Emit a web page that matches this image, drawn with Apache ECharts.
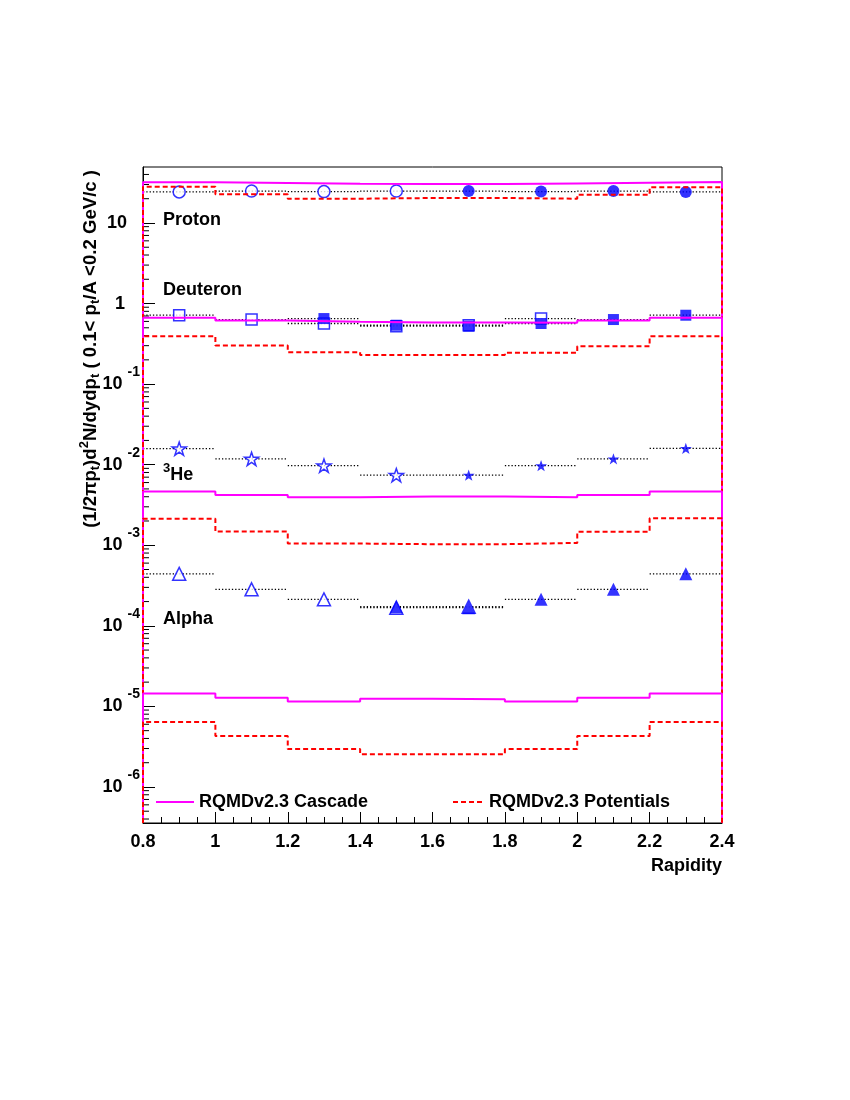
<!DOCTYPE html>
<html>
<head>
<meta charset="utf-8">
<title>Rapidity distributions</title>
<script src="https://cdn.jsdelivr.net/npm/echarts@6/dist/echarts.min.js"></script>
<style>
  html, body { margin: 0; padding: 0; background: #fff; }
  #chart { width: 850px; height: 1100px; }
</style>
</head>
<body>
<div id="chart"></div>
<script>
// bin centres in rapidity, every bin is 0.2 wide
const rapidity = [0.9, 1.1, 1.3, 1.5, 1.7, 1.9, 2.1, 2.3]
const BIN_HALF = 0.1
const X_MIN = 0.8
const X_MAX = 2.4
const Y_MIN = 3.57e-7
const Y_MAX = 49.5

// measured points (filled) and points reflected about mid-rapidity (open)
const protonMeasX = [1.7, 1.9, 2.1, 2.3]
const protonMeas = [24.9, 24.5, 24.9, 24.3]
const protonReflX = [0.9, 1.1, 1.3, 1.5]
const protonRefl = [24.3, 24.9, 24.5, 24.9]

const deuteronMeasX = [1.3, 1.5, 1.7, 1.9, 2.1, 2.3]
const deuteronMeas = [0.651, 0.538, 0.523, 0.565, 0.633, 0.716]
const deuteronReflX = [0.9, 1.1, 1.3, 1.5, 1.7, 1.9]
const deuteronRefl = [0.716, 0.633, 0.565, 0.523, 0.538, 0.651]

const he3MeasX = [1.7, 1.9, 2.1, 2.3]
const he3Meas = [0.00741, 0.00972, 0.0118, 0.0159]
const he3ReflX = [0.9, 1.1, 1.3, 1.5]
const he3Refl = [0.0158, 0.0118, 0.00972, 0.00741]

const alphaMeasX = [1.5, 1.7, 1.9, 2.1, 2.3]
const alphaMeas = [1.73e-4, 1.68e-4, 2.13e-4, 2.84e-4, 4.42e-4]
const alphaReflX = [0.9, 1.1, 1.3, 1.5, 1.7]
const alphaRefl = [4.42e-4, 2.84e-4, 2.13e-4, 1.68e-4, 1.73e-4]

// RQMD v2.3 histograms, one value per rapidity bin
const protonCascade = [32.0, 31.3, 30.7, 30.5, 30.5, 31.0, 31.6, 32.2]
const protonPotential = [28.2, 22.7, 20.0, 20.4, 20.4, 20.0, 22.4, 27.7]
const deuteronCascade = [0.665, 0.615, 0.593, 0.581, 0.581, 0.576, 0.615, 0.665]
const deuteronPotential = [0.393, 0.301, 0.249, 0.229, 0.229, 0.245, 0.295, 0.393]
const he3Cascade = [0.00463, 0.00421, 0.00393, 0.00404, 0.00404, 0.00393, 0.00421, 0.00463]
const he3Potential = [0.00214, 0.00148, 0.00105, 0.00103, 0.00103, 0.00107, 0.00147, 0.00216]
const alphaCascade = [1.45e-5, 1.28e-5, 1.15e-5, 1.24e-5, 1.23e-5, 1.15e-5, 1.28e-5, 1.45e-5]
const alphaPotential = [6.38e-6, 4.29e-6, 2.95e-6, 2.54e-6, 2.54e-6, 2.95e-6, 4.29e-6, 6.38e-6]

const CASCADE = 'RQMDv2.3 Cascade'
const POTENTIAL = 'RQMDv2.3 Potentials'
const FONT = '"Liberation Sans", Arial, Helvetica, sans-serif'
const BLUE = '#0000ff'
const STAR = 'path://M50,0 L61.8,35.1 L98.9,35.1 L68.9,56.8 L80.3,91.9 L50,70.3 L19.7,91.9 L31.1,56.8 L1.1,35.1 L38.2,35.1 Z'

// minor ticks of the log axis at 2..9 x 10^k
const yMinorTicks = []
for (let k = -7; k <= 1; k++) {
  for (let m = 2; m <= 9; m++) {
    const v = m * Math.pow(10, k)
    if (v > Y_MIN && v < Y_MAX) yMinorTicks.push(v)
  }
}

// histogram outline: drops to the axis minimum at both ends, like ROOT draws it
function histPoints(values) {
  const pts = [[X_MIN, Y_MIN]]
  values.forEach((v, i) => {
    const lo = +(rapidity[i] - BIN_HALF).toFixed(3)
    const hi = +(rapidity[i] + BIN_HALF).toFixed(3)
    pts.push([lo, v], [hi, v])
  })
  pts.push([X_MAX, Y_MIN])
  return pts
}

function histSeries(name, values) {
  const cascade = name === CASCADE
  const color = cascade ? '#ff00ff' : '#ff0000'
  return {
    name,
    type: 'line',
    data: histPoints(values),
    symbol: 'none',
    clip: false,
    silent: true,
    itemStyle: { color },
    lineStyle: { color, width: 2, type: cascade ? 'solid' : [5, 3] },
    z: 5
  }
}

// dotted horizontal bar spanning the bin of each point
function binBarSeries(xs, vals) {
  return {
    type: 'custom',
    silent: true,
    data: xs.map((x, i) => [x, vals[i]]),
    renderItem(params, api) {
      const a = api.coord([api.value(0) - BIN_HALF, api.value(1)])
      const b = api.coord([api.value(0) + BIN_HALF, api.value(1)])
      return {
        type: 'line',
        shape: { x1: a[0], y1: a[1], x2: b[0], y2: b[1] },
        style: { stroke: '#000', lineWidth: 1.3, lineDash: [1.3, 2] }
      }
    },
    z: 2
  }
}

function markerSeries(xs, vals, symbol, size, open) {
  return {
    type: 'scatter',
    silent: true,
    data: xs.map((x, i) => [x, vals[i]]),
    symbol,
    symbolSize: size,
    symbolKeepAspect: true,
    itemStyle: open
      ? { color: '#fff', borderColor: BLUE, borderWidth: 1.5 }
      : { color: BLUE },
    z: open ? 3 : 4
  }
}

function powLabel(v) {
  const lg = Math.log10(v)
  const e = Math.round(lg)
  if (Math.abs(lg - e) > 1e-6) return ''
  if (e === 0) return '{p0|1}'
  if (e === 1) return '{p1|10}'
  return '{b|10}{e|' + e + '}'
}

const labelBold = { fontFamily: FONT, fontWeight: 'bold', color: '#000' }

// legend shows only the line, not the symbol ECharts adds for line series
const legendBase = {
  top: 788,
  itemHeight: 14,
  itemStyle: { color: 'transparent', borderColor: 'transparent', borderWidth: 0 },
  textStyle: { ...labelBold, fontSize: 18 }
}

const chart = echarts.init(document.getElementById('chart'))

chart.setOption({
  animation: false,
  backgroundColor: '#fff',
  grid: {
    left: 143,
    right: 128,
    top: 167,
    bottom: 277,
    show: true,
    borderColor: '#000',
    borderWidth: 1,
    backgroundColor: 'transparent'
  },
  legend: [
    { ...legendBase, left: 150, data: [CASCADE], itemWidth: 38 },
    { ...legendBase, left: 447, data: [POTENTIAL], itemWidth: 31 }
  ],
  xAxis: {
    type: 'value',
    min: X_MIN,
    max: X_MAX,
    interval: 0.2,
    axisLine: { onZero: false, lineStyle: { color: '#000', width: 1 } },
    axisTick: { inside: true, length: 11, lineStyle: { color: '#000' } },
    minorTick: { show: true, splitNumber: 4, length: 6, lineStyle: { color: '#000' } },
    splitLine: { show: false },
    axisLabel: { ...labelBold, fontSize: 18, margin: 10 },
    name: 'Rapidity',
    nameLocation: 'end',
    nameGap: 0,
    nameMoveOverlap: false,
    nameTextStyle: {
      ...labelBold,
      fontSize: 18,
      align: 'right',
      verticalAlign: 'top',
      padding: [34, 0, 0, 0]
    }
  },
  yAxis: {
    type: 'log',
    logBase: 10,
    min: Y_MIN,
    max: Y_MAX,
    splitNumber: 8,
    axisLine: { show: true, onZero: false, lineStyle: { color: '#000', width: 1 } },
    axisTick: { inside: true, length: 12, lineStyle: { color: '#000' } },
    splitLine: { show: false },
    axisLabel: {
      margin: 3,
      showMinLabel: false,
      showMaxLabel: false,
      formatter: powLabel,
      rich: {
        p0: { ...labelBold, fontSize: 18, padding: [0, 15, 0, 0] },
        p1: { ...labelBold, fontSize: 18, padding: [0, 13, 0, 0] },
        b: { ...labelBold, fontSize: 18 },
        e: { ...labelBold, fontSize: 14, padding: [0, 0, 24, 5] }
      }
    },
    name: '{a|(1/2\u03c0p}{s|t}{a|)d}{u|2}{a|N/dydp}{s|t}{a| ( 0.1< p}{s|t}{a|/A <0.2 GeV/c )}',
    nameLocation: 'end',
    nameRotate: 90,
    nameGap: -3,
    nameMoveOverlap: false,
    nameTextStyle: {
      align: 'right',
      verticalAlign: 'bottom',
      padding: [0, 0, 40, 0],
      rich: {
        a: { ...labelBold, fontSize: 18.6 },
        s: { ...labelBold, fontSize: 13, padding: [10, 0, 0, 0] },
        u: { ...labelBold, fontSize: 13, padding: [0, 0, 12, 0] }
      }
    }
  },
  graphic: [
    { type: 'text', x: 163, y: 220.5, style: { text: 'Proton', font: 'bold 18px ' + FONT, fill: '#000', verticalAlign: 'middle' } },
    { type: 'text', x: 163, y: 290.5, style: { text: 'Deuteron', font: 'bold 18px ' + FONT, fill: '#000', verticalAlign: 'middle' } },
    {
      type: 'text', x: 163, y: 475,
      style: {
        text: '{s|3}{b|He}',
        verticalAlign: 'middle',
        rich: {
          s: { fontFamily: FONT, fontWeight: 'bold', fontSize: 13, fill: '#000', padding: [0, 0, 14, 0] },
          b: { fontFamily: FONT, fontWeight: 'bold', fontSize: 18, fill: '#000' }
        }
      }
    },
    { type: 'text', x: 163, y: 619.5, style: { text: 'Alpha', font: 'bold 18px ' + FONT, fill: '#000', verticalAlign: 'middle' } }
  ],
  series: [
    {
      type: 'custom',
      silent: true,
      data: yMinorTicks.map((v) => [X_MIN, v]),
      renderItem(params, api) {
        const p = api.coord([X_MIN, api.value(1)])
        return {
          type: 'line',
          shape: { x1: p[0], y1: p[1], x2: p[0] + 6, y2: p[1] },
          style: { stroke: '#000', lineWidth: 1 }
        }
      },
      z: 1
    },
    binBarSeries(protonReflX, protonRefl),
    binBarSeries(protonMeasX, protonMeas),
    binBarSeries(deuteronReflX, deuteronRefl),
    binBarSeries(deuteronMeasX, deuteronMeas),
    binBarSeries(he3ReflX, he3Refl),
    binBarSeries(he3MeasX, he3Meas),
    binBarSeries(alphaReflX, alphaRefl),
    binBarSeries(alphaMeasX, alphaMeas),
    markerSeries(protonReflX, protonRefl, 'circle', 12, true),
    markerSeries(protonMeasX, protonMeas, 'circle', 12, false),
    markerSeries(deuteronReflX, deuteronRefl, 'rect', 11, true),
    markerSeries(deuteronMeasX, deuteronMeas, 'rect', 11, false),
    markerSeries(he3ReflX, he3Refl, STAR, 14, true),
    markerSeries(he3MeasX, he3Meas, STAR, 12, false),
    markerSeries(alphaReflX, alphaRefl, 'triangle', 13, true),
    markerSeries(alphaMeasX, alphaMeas, 'triangle', 13, false),
    histSeries(CASCADE, protonCascade),
    histSeries(POTENTIAL, protonPotential),
    histSeries(CASCADE, deuteronCascade),
    histSeries(POTENTIAL, deuteronPotential),
    histSeries(CASCADE, he3Cascade),
    histSeries(POTENTIAL, he3Potential),
    histSeries(CASCADE, alphaCascade),
    histSeries(POTENTIAL, alphaPotential)
  ]
})
</script>
</body>
</html>
